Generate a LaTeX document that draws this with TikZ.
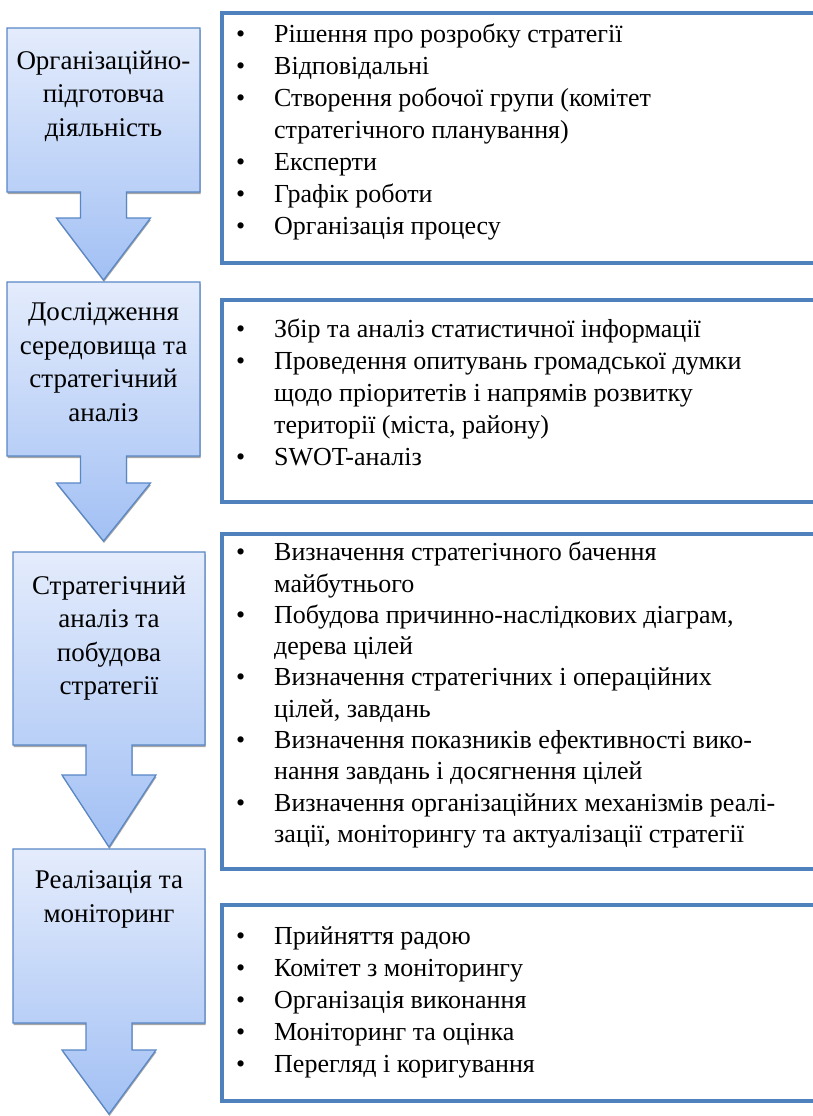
\documentclass[tikz,border=0pt]{standalone}
\usepackage{fontspec}
\setmainfont{Liberation Serif}
\usetikzlibrary{shadows}
\definecolor{boxblue}{RGB}{79,129,189}
\definecolor{shapeline}{RGB}{88,135,198}
\definecolor{shapetop}{RGB}{228,236,252}
\definecolor{shapebot}{RGB}{162,192,244}
\newcommand\dnarrow[6]{%
  \path[arrowshape] (#1,#3) -- (#2,#3) -- (#2,#4) -- ({(#1+#2)/2+23},#4) -- ({(#1+#2)/2+23},#5) -- ({(#1+#2)/2+47},#5) -- ({(#1+#2)/2},#6) -- ({(#1+#2)/2-47},#5) -- ({(#1+#2)/2-23},#5) -- ({(#1+#2)/2-23},#4) -- (#1,#4) -- cycle;}
\tikzset{
  arrowshape/.style={draw=shapeline, line width=1.2pt, top color=shapetop, bottom color=shapebot,
    drop shadow={shadow xshift=0.5pt, shadow yshift=-2pt, opacity=0.35, fill=black}},
  stagetext/.style={anchor=north, align=center, inner sep=0pt, font=\fontsize{27}{33.5}\selectfont},
  rbox/.style={draw=boxblue, line width=4.5pt},
  listtext/.style={anchor=north west, inner sep=0pt, font=\fontsize{26}{32}\selectfont}
}
\begin{document}
\begin{tikzpicture}[x=1pt,y=-1pt]
\useasboundingbox (0,0) rectangle (813,1116);
\clip (0,0) rectangle (813,1116);
\fill[white] (0,0) rectangle (813,1116);
% left stage arrows
\dnarrow{7}{200}{28}{192}{218}{280}
\dnarrow{7}{200}{282}{456}{483}{541}
\dnarrow{13}{205}{552}{745}{775}{847}
\dnarrow{13}{205}{849}{1023}{1050}{1114}
\node[stagetext] (s1) at (103.5,50.5) {Організаційно-\\підготовча\\діяльність};
\node[stagetext] (s2) at (103.5,302.5) {Дослідження\\середовища та\\стратегічний\\аналіз};
\node[stagetext] (s3) at (109,575.5) {Стратегічний\\аналіз та\\побудова\\стратегії};
\node[stagetext] (s4) at (109,870.5) {Реалізація та\\моніторинг};
% right boxes
\draw[rbox] (222,13) rectangle (920,263);
\draw[rbox] (222,300) rectangle (920,502);
\draw[rbox] (222,534) rectangle (920,869);
\draw[rbox] (222,905) rectangle (920,1101);
\node[listtext] (l1) at (236,20.3) {\begin{tabular}{@{}p{38pt}@{}l@{}}
\textbullet & Рішення про розробку стратегії\\
\textbullet & Відповідальні\\
\textbullet & Створення робочої групи (комітет\\
 & стратегічного планування)\\
\textbullet & Експерти\\
\textbullet & Графік роботи\\
\textbullet & Організація процесу
\end{tabular}};
\node[listtext] (l2) at (236,315.3) {\begin{tabular}{@{}p{38pt}@{}l@{}}
\textbullet & Збір та аналіз статистичної інформації\\
\textbullet & Проведення опитувань громадської думки\\
 & щодо пріоритетів і напрямів розвитку\\
 & території (міста, району)\\
\textbullet & SWOT-аналіз
\end{tabular}};
\node[listtext, font=\fontsize{26}{31.3}\selectfont] (l3) at (236,538.6) {\begin{tabular}{@{}p{38pt}@{}l@{}}
\textbullet & Визначення стратегічного бачення\\
 & майбутнього\\
\textbullet & Побудова причинно-наслідкових діаграм,\\
 & дерева цілей\\
\textbullet & Визначення стратегічних і операційних\\
 & цілей, завдань\\
\textbullet & Визначення показників ефективності вико-\\
 & нання завдань і досягнення цілей\\
\textbullet & Визначення організаційних механізмів реалі-\\
 & зації, моніторингу та актуалізації стратегії
\end{tabular}};
\node[listtext] (l4) at (236,922.3) {\begin{tabular}{@{}p{38pt}@{}l@{}}
\textbullet & Прийняття радою\\
\textbullet & Комітет з моніторингу\\
\textbullet & Організація виконання\\
\textbullet & Моніторинг та оцінка\\
\textbullet & Перегляд і коригування
\end{tabular}};
\end{tikzpicture}
\end{document}
